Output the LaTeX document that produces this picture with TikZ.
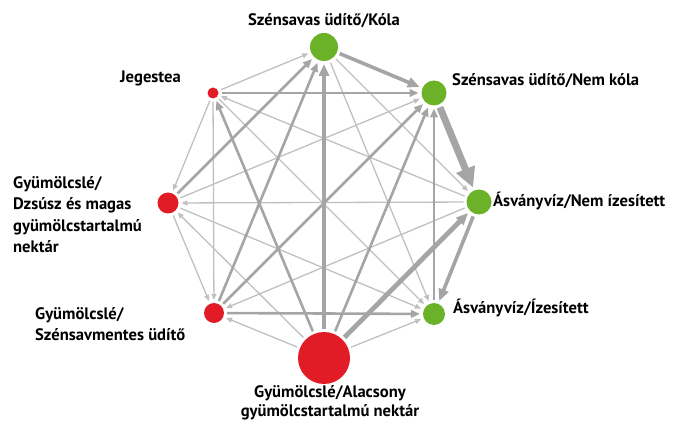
\documentclass[tikz,border=0pt]{standalone}
\usepackage{fontspec}
\setmainfont{PT Sans}
\definecolor{gain}{RGB}{108,178,40}
\definecolor{loss}{RGB}{226,28,38}
\definecolor{flowgray}{RGB}{165,165,165}
\definecolor{faintgray}{RGB}{192,192,192}
\usetikzlibrary{arrows.meta}

\begin{document}
\begin{tikzpicture}[x=1pt,y=-1pt,
            dot/.style={circle, inner sep=0pt, outer sep=3pt},
            up/.style={dot, fill=gain},
            down/.style={dot, fill=loss},
            txt/.style={font=\bfseries\fontsize{16.6}{21.5}\selectfont, inner sep=0pt},
            thinflow/.style={draw=faintgray, line width=1.3pt, -{Triangle[length=6pt,width=5pt]}},
            midflow/.style={draw=flowgray, line width=2.6pt, -{Triangle[length=9pt,width=7.5pt]}},
            bigflow/.style={draw=flowgray, line width=3.6pt, -{Triangle[length=12pt,width=10pt]}},
            hugeflow/.style={draw=flowgray, line width=7pt, -{Triangle[length=20pt,width=19pt]}},
        ]
            \useasboundingbox (0,0) rectangle (686,422);

            % circles
            \node [up, minimum size=28pt] (kola)    at (324,47)  {};
            \node [up, minimum size=25pt] (nemkola) at (434,93)  {};
            \node [up, minimum size=25pt] (sima)    at (479,202) {};
            \node [up, minimum size=22pt] (izes)    at (434,314) {};
            \node [down, minimum size=52pt] (nektar) at (324,358) {};
            \node [down, minimum size=20pt] (mentes) at (214,313) {};
            \node [down, minimum size=21pt] (dzsusz) at (168,203) {};
            \node [down, minimum size=11pt] (jeges)  at (213,93)  {};

            % labels
            \node [txt, anchor=base] (kolatxt) at (324,26) {Szénsavas üdítő/Kóla};
            \node [txt, anchor=base east] (jegestxt) at (181,83) {Jegestea};
            \node [txt, anchor=base west] (nemkolatxt) at (452,86) {Szénsavas üdítő/Nem kóla};
            \node [txt, anchor=base west] (simatxt) at (493,207) {Ásványvíz/Nem ízesített};
            \node [txt, anchor=base west] (izestxt) at (453,313) {Ásványvíz/Ízesített};
            \node [txt, anchor=north west, align=left] (mentestxt) at (35,307) {Gyümölcslé/\\Szénsavmentes üdítő};
            \node [txt, anchor=north west, align=left] (dzsusztxt) at (13,176) {Gyümölcslé/\\Dzsúsz és magas\\gyümölcstartalmú\\nektár};
            \node [txt, anchor=north, align=center, font=\bfseries\fontsize{16.6}{19}\selectfont] (nektartxt) at (330,385) {Gyümölcslé/Alacsony\\gyümölcstartalmú nektár};

            % thin flows
            \draw[thinflow] (kola) -- (sima);
            \draw[thinflow] (kola) -- (izes);
            \draw[thinflow] (jeges) -- (kola);
            \draw[thinflow] (dzsusz) -- (nemkola);
            \draw[thinflow] (sima) -- (mentes);
            \draw[thinflow] (sima) -- (dzsusz);
            \draw[thinflow] (sima) -- (jeges);
            \draw[thinflow] (nektar) -- (izes);
            \draw[thinflow] (dzsusz) -- (izes);
            \draw[thinflow] (jeges) -- (izes);
            \draw[thinflow] (nektar) -- (mentes);
            \draw[thinflow] (nektar) -- (dzsusz);
            \draw[thinflow] (dzsusz) -- (mentes);
            \draw[thinflow] (jeges) -- (mentes);
            \draw[thinflow] (jeges) -- (dzsusz);

            % medium flows
            \draw[midflow] (mentes) -- (kola);
            \draw[midflow] (dzsusz) -- (kola);
            \draw[midflow] (izes) -- (nemkola);
            \draw[midflow] (nektar) -- (nemkola);
            \draw[midflow] (mentes) -- (nemkola);
            \draw[midflow] (jeges) -- (nemkola);
            \draw[midflow] (mentes) -- (izes);
            \draw[midflow] (nektar) -- (jeges);

            % strong flows
            \draw[bigflow] (nektar) -- (kola);
            \draw[bigflow] (kola) -- (nemkola);
            \draw[bigflow] (sima) -- (izes);
            \draw[bigflow, line width=4.8pt] (nektar) -- (sima);
            \draw[hugeflow] (nemkola) -- (sima);

        \end{tikzpicture}
\end{document}
